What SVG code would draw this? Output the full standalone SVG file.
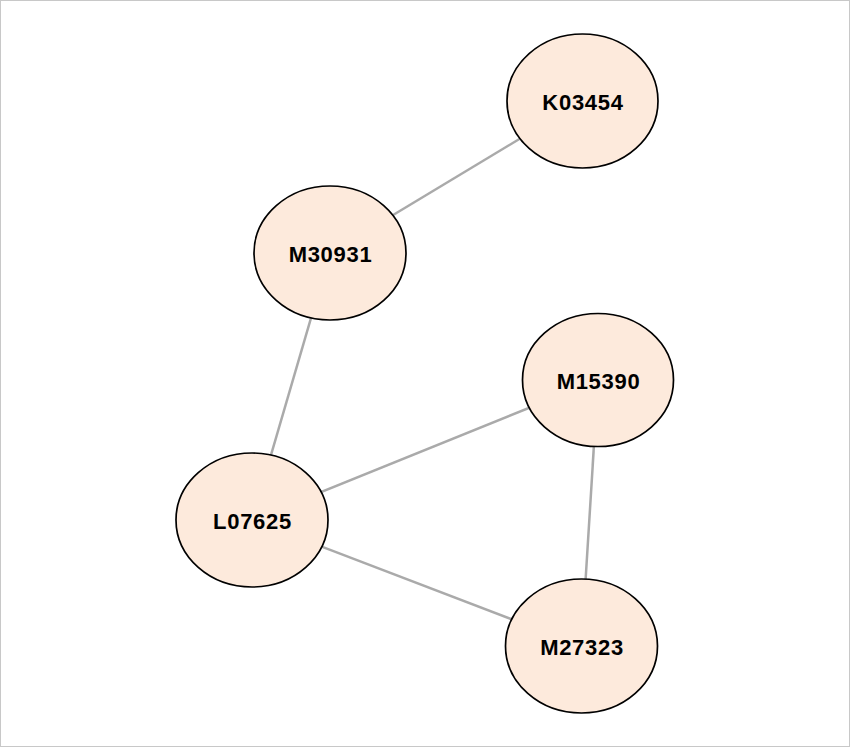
<svg xmlns="http://www.w3.org/2000/svg" width="850" height="747" viewBox="0 0 850 747">
<style>
.frame{fill:#fff;stroke:#c8c8c8;stroke-width:1}
.edge{stroke:#aaaaaa;stroke-width:2.5;fill:none}
.node ellipse{fill:#fdeadc;stroke:#000;stroke-width:1.7}
.node text{font-family:"Liberation Sans",Arial,sans-serif;font-weight:bold;font-size:22px;letter-spacing:0.7px;text-anchor:middle;fill:#000}
</style>
<rect class="frame" x="0.5" y="0.5" width="849" height="746"/>
<g id="connectors">
<line class="edge" x1="582.5" y1="101" x2="330" y2="253"/>
<line class="edge" x1="330" y1="253" x2="252" y2="520"/>
<line class="edge" x1="252" y1="520" x2="598" y2="380"/>
<line class="edge" x1="252" y1="520" x2="581.5" y2="646"/>
<line class="edge" x1="598" y1="380" x2="581.5" y2="646"/>
</g>
<g id="K03454" class="node"><ellipse cx="582.5" cy="101" rx="75.5" ry="67"/><text x="583" y="110">K03454</text></g>
<g id="M30931" class="node"><ellipse cx="330" cy="253" rx="76" ry="67"/><text x="330.5" y="262">M30931</text></g>
<g id="M15390" class="node"><ellipse cx="598" cy="380" rx="75.5" ry="66.5"/><text x="598.5" y="389">M15390</text></g>
<g id="L07625" class="node"><ellipse cx="252" cy="520" rx="76" ry="67"/><text x="252.5" y="529">L07625</text></g>
<g id="M27323" class="node"><ellipse cx="581.5" cy="646" rx="76" ry="67"/><text x="582" y="655">M27323</text></g>
</svg>
